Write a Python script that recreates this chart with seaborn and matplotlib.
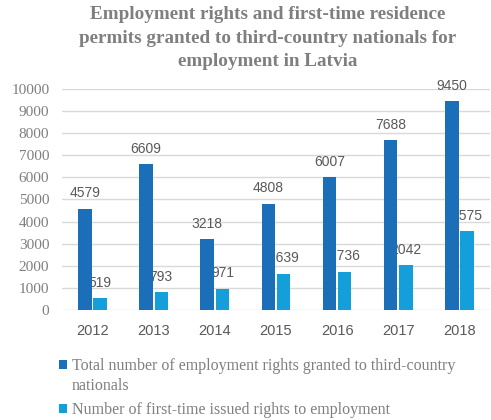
import matplotlib
matplotlib.use("Agg")
import matplotlib.pyplot as plt
import seaborn as sns
import pandas as pd
from matplotlib.patches import Patch

years = ["2012", "2013", "2014", "2015", "2016", "2017", "2018"]
total_rights = [4579, 6609, 3218, 4808, 6007, 7688, 9450]
first_time = [519, 793, 971, 1639, 1736, 2042, 3575]
series_names = ["Total number of employment rights granted to third-country\nnationals",
                "Number of first-time issued rights to employment"]
y_ticks = [0, 1000, 2000, 3000, 4000, 5000, 6000, 7000, 8000, 9000, 10000]
colors = ["#1B6FB8", "#149FDB"]
title = ("Employment rights and first-time residence\n"
         "permits granted to third-country nationals for\n"
         "employment in Latvia")

df = pd.DataFrame({
    "year": years * 2,
    "value": total_rights + first_time,
    "series": [series_names[0]] * len(years) + [series_names[1]] * len(years),
})

sns.set_theme(style="white")
plt.rcParams['font.family'] = ['Liberation Sans', 'DejaVu Sans']

fig = plt.figure(figsize=(4.91, 4.20), dpi=100)
ax = fig.add_axes([0.126, 0.262, 0.872, 0.526])

sns.barplot(data=df, x="year", y="value", hue="series", order=years,
            hue_order=series_names, palette=colors, saturation=1,
            width=0.5, gap=0.12, ax=ax, legend=False, zorder=2,
            edgecolor="none")

ax.set_ylim(0, 10000)
ax.set_yticks(y_ticks)
ax.set_yticklabels([str(v) for v in y_ticks], fontfamily="Liberation Serif",
                   fontsize=11, color="#7F7F7F")
ax.yaxis.grid(True, color="#D9D9D9", linewidth=1, zorder=0)
ax.set_axisbelow(True)
for s in ax.spines.values():
    s.set_visible(False)
ax.set_xlabel("")
ax.set_ylabel("")
ax.tick_params(axis="both", length=0)
ax.tick_params(axis="y", pad=9)
ax.tick_params(axis="x", pad=10, labelsize=10.5, labelcolor="#595959")

for cont in ax.containers:
    texts = ax.bar_label(cont, padding=6, fontsize=10, color="#595959")
    for t in texts:
        t.set_zorder(1)

fig.text(0.545, 0.985, title, ha="center", va="top", fontsize=13.8,
         fontweight="bold", family="Liberation Serif", color="#7F7F7F",
         linespacing=1.5)

# Legend: first line of each label next to its square, wrapped remainder below
first_lines = [name.split("\n")[0] for name in series_names]
handles = [Patch(facecolor=c, edgecolor="none") for c in colors]
leg_font = {"family": "Liberation Serif", "size": 11.5}
leg = fig.legend(handles, first_lines, loc="upper left",
                 bbox_to_anchor=(0.12, 0.147), frameon=False,
                 prop=leg_font,
                 handlelength=0.5, handleheight=0.5, handletextpad=0.3,
                 labelspacing=1.75, borderaxespad=0, borderpad=0)
for t in leg.get_texts():
    t.set_color("#7F7F7F")

fig.canvas.draw()
inv = fig.transFigure.inverted()
for t, name in zip(leg.get_texts(), series_names):
    rest = name.split("\n")[1:]
    if rest:
        bb = t.get_window_extent()
        x0, y0 = inv.transform((bb.x0, bb.y0))
        fig.text(x0, y0 - 4.0 / 420, "\n".join(rest), ha="left", va="top",
                 fontfamily="Liberation Serif", fontsize=11.5, color="#7F7F7F")

fig.savefig("out.png", dpi=100)
